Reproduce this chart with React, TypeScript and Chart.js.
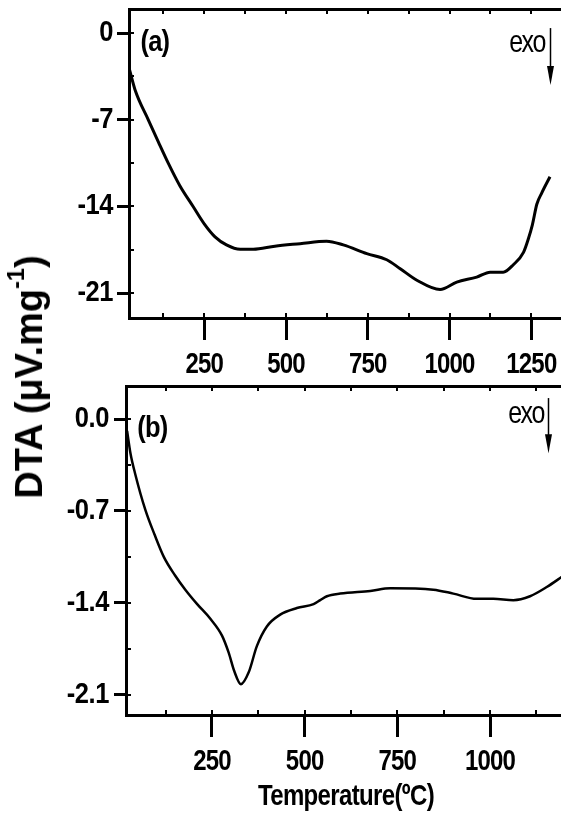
import React, { useEffect, useRef } from 'react';
import { Chart, registerables } from 'chart.js';

Chart.register(...registerables);

// ---------- data ----------
const tempA = [22, 40, 79, 110, 140, 175, 216, 250, 283, 318, 360, 400, 466, 543, 624, 675, 747, 808, 848, 900, 971, 1022, 1083, 1124, 1164, 1195, 1226, 1241, 1253, 1267, 1282, 1307];
const dtaA = [-3.0, -4.7, -7.0, -8.8, -10.5, -12.3, -14.0, -15.4, -16.45, -17.1, -17.45, -17.45, -17.2, -17.0, -16.8, -17.1, -17.8, -18.3, -19.0, -19.95, -20.7, -20.1, -19.7, -19.3, -19.3, -18.7, -17.7, -16.6, -15.5, -13.8, -12.9, -11.6];

const tempB = [21, 30, 43, 70, 95, 120, 150, 178, 210, 245, 277, 295, 310, 328, 349, 371, 398, 434, 479, 524, 542, 560, 596, 677, 731, 847, 901, 964, 1009, 1063, 1108, 1153, 1195];
const dtaB = [-0.09, -0.26, -0.42, -0.69, -0.88, -1.05, -1.19, -1.3, -1.41, -1.52, -1.65, -1.78, -1.92, -2.02, -1.93, -1.73, -1.58, -1.49, -1.44, -1.41, -1.38, -1.35, -1.33, -1.31, -1.29, -1.3, -1.33, -1.37, -1.37, -1.38, -1.35, -1.28, -1.2];

const xTicksA = [250, 500, 750, 1000, 1250];
const xMinorA = [125, 250, 375, 500, 625, 750, 875, 1000, 1125, 1250];
const yTicksA = [0, -7, -14, -21];
const yTickLabelsA = ['0', '-7', '-14', '-21'];
const yMinorA = [0, -3.5, -7, -10.5, -14, -17.5, -21];

const xTicksB = [250, 500, 750, 1000];
const xMinorB = [125, 250, 375, 500, 625, 750, 875, 1000, 1125];
const yTicksB = [0, -0.7, -1.4, -2.1];
const yTickLabelsB = ['0.0', '-0.7', '-1.4', '-2.1'];
const yMinorB = [0, -0.35, -0.7, -1.05, -1.4, -1.75, -2.1];

const FONT = '"Liberation Sans", Arial, Helvetica, sans-serif';

// draw text horizontally condensed (sx) with a letter spacing, around each anchor point
function condensed(ctx: any, sx: number, ls: number, fn: () => void) {
  const orig = ctx.fillText;
  ctx.save();
  ctx.letterSpacing = ls + 'px';
  ctx.fillText = function (text: string, x: number, y: number, maxWidth?: number) {
    this.save();
    this.translate(x, y);
    this.scale(sx, 1);
    if (maxWidth === undefined) orig.call(this, text, 0, 0);
    else orig.call(this, text, 0, 0, maxWidth / sx);
    this.restore();
  };
  try {
    fn();
  } finally {
    delete ctx.fillText;
    ctx.restore();
  }
}

function wrapScale(s: any, tick: [number, number], title?: [number, number]) {
  if (s.__wrapped) return;
  s.__wrapped = true;
  const dl = s.drawLabels.bind(s);
  s.drawLabels = (ca: any) => condensed(s.ctx, tick[0], tick[1], () => dl(ca));
  if (title) {
    const dt = s.drawTitle.bind(s);
    s.drawTitle = () => condensed(s.ctx, title[0], title[1], () => dt());
  }
}

type Panel = {
  temps: number[];
  vals: number[];
  lineWidth: number;
  xMin: number; xMax: number; yMin: number; yMax: number;
  xTicks: number[]; xMinor: number[];
  yTicks: number[]; yLabels: string[]; yMinor: number[];
  leftWidth: number; topHeight: number; bottomHeight: number;
  yPad: number;
  tag: string; tagAt: [number, number];
  exoAt: [number, number];
  arrowX: number; arrowFrom: number; arrowTo: number;
  title?: string;
};

const panelA: Panel = {
  temps: tempA, vals: dtaA, lineWidth: 3,
  xMin: 20, xMax: 1356, yMin: -23.0, yMax: 1.94,
  xTicks: xTicksA, xMinor: xMinorA,
  yTicks: yTicksA, yLabels: yTickLabelsA, yMinor: yMinorA,
  leftWidth: 129, topHeight: 9, bottomHeight: 64, yPad: 4,
  tag: '(a)', tagAt: [99, -0.8],
  exoAt: [1237, -0.8],
  arrowX: 1307, arrowFrom: 0.4, arrowTo: -4.2,
};

const panelB: Panel = {
  temps: tempB, vals: dtaB, lineWidth: 2.5,
  xMin: 18, xMax: 1205, yMin: -2.255, yMax: 0.252,
  xTicks: xTicksB, xMinor: xMinorB,
  yTicks: yTicksB, yLabels: yTickLabelsB, yMinor: yMinorB,
  leftWidth: 126, topHeight: 4, bottomHeight: 108, yPad: 5,
  tag: '(b)', tagAt: [89, -0.073],
  exoAt: [1097, 0.04],
  arrowX: 1156, arrowFrom: 0.16, arrowTo: -0.26,
  title: 'Temperature(ºC)',
};

function makeConfig(p: Panel): any {
  const decor = {
    id: 'decor',
    afterDraw(chart: any) {
      const { ctx, chartArea } = chart;
      const { left, top, bottom } = chartArea;
      const xs = chart.scales.x;
      const ys = chart.scales.y;
      ctx.save();
      ctx.strokeStyle = '#000';
      ctx.fillStyle = '#000';
      ctx.lineWidth = 2;
      ctx.beginPath();
      for (const v of p.xMinor) {
        const px = Math.round(xs.getPixelForValue(v));
        ctx.moveTo(px, bottom); ctx.lineTo(px, bottom - 5);
        ctx.moveTo(px, top); ctx.lineTo(px, top + 5);
      }
      for (const v of p.yMinor) {
        const py = Math.round(ys.getPixelForValue(v));
        ctx.moveTo(left, py); ctx.lineTo(left + 5, py);
      }
      ctx.stroke();

      ctx.textAlign = 'center';
      ctx.textBaseline = 'middle';
      // panel tag
      ctx.font = `bold 30px ${FONT}`;
      condensed(ctx, 0.85, -1, () => {
        ctx.fillText(p.tag, xs.getPixelForValue(p.tagAt[0]), ys.getPixelForValue(p.tagAt[1]));
      });
      // exo
      ctx.font = `normal 32px ${FONT}`;
      condensed(ctx, 0.78, -2, () => {
        ctx.fillText('exo', xs.getPixelForValue(p.exoAt[0]), ys.getPixelForValue(p.exoAt[1]));
      });
      // arrow
      const ax = Math.round(xs.getPixelForValue(p.arrowX)) + 0.5;
      const y1 = ys.getPixelForValue(p.arrowFrom);
      const y2 = ys.getPixelForValue(p.arrowTo);
      ctx.lineWidth = 1.5;
      ctx.beginPath();
      ctx.moveTo(ax, y1); ctx.lineTo(ax, y2 - 12);
      ctx.stroke();
      ctx.beginPath();
      ctx.moveTo(ax - 3.5, y2 - 19);
      ctx.lineTo(ax + 3.5, y2 - 19);
      ctx.lineTo(ax, y2);
      ctx.closePath();
      ctx.fill();
      ctx.restore();
    },
  };

  return {
    type: 'line',
    data: {
      datasets: [{
        data: p.temps.map((t, i) => ({ x: t, y: p.vals[i] })),
        borderColor: '#000',
        borderWidth: p.lineWidth,
        pointRadius: 0,
        fill: false,
        cubicInterpolationMode: 'monotone',
      }],
    },
    options: {
      animation: false,
      responsive: false,
      maintainAspectRatio: false,
      layout: { padding: 0 },
      plugins: { legend: { display: false }, tooltip: { enabled: false } },
      scales: {
        x: {
          type: 'linear', position: 'bottom', min: p.xMin, max: p.xMax,
          afterBuildTicks: (s: any) => { s.ticks = p.xTicks.map((v) => ({ value: v })); },
          afterFit: (s: any) => {
            s.height = p.bottomHeight;
            s.paddingLeft = 0; s.paddingRight = 0; s.paddingTop = 0; s.paddingBottom = 0;
            wrapScale(s, [0.8, -1], p.title ? [0.8, -0.8] : undefined);
          },
          grid: { display: true, drawOnChartArea: false, drawTicks: true, tickLength: 22, tickWidth: 3, tickColor: '#000', color: '#000' },
          border: { display: true, color: '#000', width: 3 },
          ticks: {
            color: '#000', padding: 7, maxRotation: 0, autoSkip: false,
            font: { family: FONT, size: 30, weight: 'bold' },
            callback: (v: any) => String(v),
          },
          title: p.title ? {
            display: true, text: p.title, color: '#000',
            font: { family: FONT, size: 30, weight: 'bold' },
            padding: { top: 0, bottom: 8 },
          } : { display: false },
        },
        x2: {
          type: 'linear', position: 'top', min: p.xMin, max: p.xMax, display: true,
          afterFit: (s: any) => {
            s.height = p.topHeight;
            s.paddingLeft = 0; s.paddingRight = 0; s.paddingTop = 0; s.paddingBottom = 0;
          },
          grid: { display: false },
          border: { display: true, color: '#000', width: 3 },
          ticks: { display: false },
        },
        y: {
          type: 'linear', position: 'left', min: p.yMin, max: p.yMax,
          afterBuildTicks: (s: any) => { s.ticks = p.yTicks.map((v) => ({ value: v })); },
          afterFit: (s: any) => {
            s.width = p.leftWidth;
            s.paddingLeft = 0; s.paddingRight = 0; s.paddingTop = 0; s.paddingBottom = 0;
            wrapScale(s, [0.88, -0.5]);
          },
          grid: { display: true, drawOnChartArea: false, drawTicks: true, tickLength: 12, tickWidth: 3, tickColor: '#000', color: '#000' },
          border: { display: true, color: '#000', width: 3 },
          ticks: {
            color: '#000', padding: p.yPad, autoSkip: false,
            font: { family: FONT, size: 29, weight: 'bold' },
            callback: (v: any) => {
              const i = p.yTicks.findIndex((t) => Math.abs(t - v) < 1e-9);
              return i >= 0 ? p.yLabels[i] : '';
            },
          },
        },
      },
    },
    plugins: [decor],
  };
}

function PanelChart({ panel, top, height }: { panel: Panel; top: number; height: number }) {
  const ref = useRef<HTMLCanvasElement | null>(null);
  useEffect(() => {
    if (!ref.current) return;
    const chart = new Chart(ref.current, makeConfig(panel));
    return () => chart.destroy();
  }, [panel]);
  return (
    <canvas
      ref={ref}
      width={566}
      height={height}
      style={{ position: 'absolute', left: 0, top, width: 566, height }}
    />
  );
}

export default function App() {
  return (
    <div style={{ position: 'absolute', left: 0, top: 0, width: 561, height: 823, overflow: 'hidden', background: '#fff' }}>
      <PanelChart panel={panelA} top={0} height={382} />
      <PanelChart panel={panelB} top={382} height={441} />
      <div
        style={{
          position: 'absolute', left: 29, top: 377,
          transform: 'translate(-50%, -50%) rotate(-90deg)',
          whiteSpace: 'nowrap',
          font: `bold 38px ${FONT}`,
          lineHeight: '38px',
          color: '#000',
        }}
      >
        DTA (μV.mg<sup style={{ fontSize: '0.62em', lineHeight: 0, verticalAlign: '0.75em' }}>-1</sup>)
      </div>
    </div>
  );
}
